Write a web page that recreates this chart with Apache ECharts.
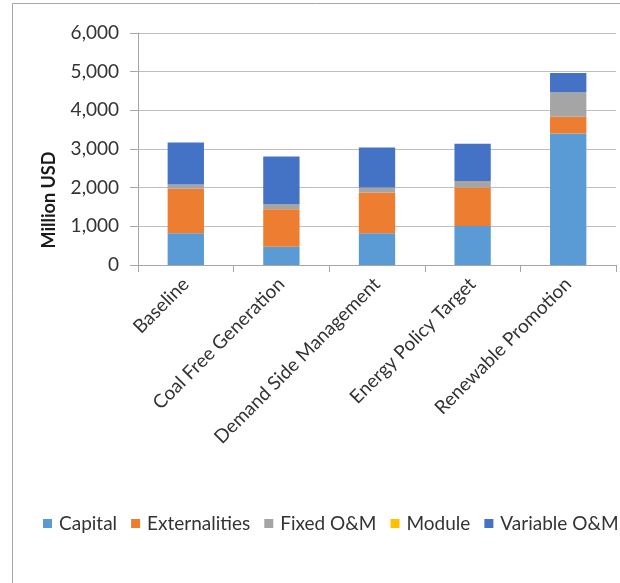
<!DOCTYPE html>
<html>
<head>
<meta charset="utf-8">
<script src="https://cdn.jsdelivr.net/npm/echarts@6/dist/echarts.min.js"></script>
<style>
  html, body { margin: 0; padding: 0; background: #ffffff; }
  #chart { width: 620px; height: 583px; }
</style>
</head>
<body>
<div id="chart"></div>
<script>
// Cost components per scenario, million USD
const scenarios = ['Baseline', 'Coal Free Generation', 'Demand Side Management', 'Energy Policy Target', 'Renewable Promotion'];
const capital = [820, 475, 820, 1010, 3400];
const externalities = [1150, 970, 1055, 995, 435];
const fixedOM = [110, 135, 130, 165, 630];
const moduleCost = [0, 0, 0, 0, 0];
const variableOM = [1090, 1225, 1035, 965, 500];
const yTickValues = [0, 1000, 2000, 3000, 4000, 5000, 6000];

const FONT = 'Lato, "DejaVu Sans", sans-serif';
const TEXT = '#333333';
const SIZE = 19;

const chart = echarts.init(document.getElementById('chart'), null, { renderer: 'canvas' });

function stackSeries(name, values, color) {
  return {
    name: name,
    type: 'bar',
    stack: 'cost',
    data: values,
    barWidth: '38%',
    itemStyle: { color: color },
    emphasis: { disabled: true }
  };
}

chart.setOption({
  animation: false,
  textStyle: { fontFamily: FONT },
  grid: { left: 138, right: 4, top: 33, bottom: 318, containLabel: false },
  graphic: [
    {
      type: 'rect',
      shape: { x: 12.5, y: 3.5, width: 700, height: 700 },
      style: { fill: null, stroke: '#a6a6a6', lineWidth: 1 },
      silent: true
    },
    {
      type: 'text',
      x: 49,
      y: 200,
      rotation: Math.PI / 2,
      style: {
        text: 'Million USD',
        font: 'bold 18px ' + FONT,
        fill: '#1a1a1a',
        align: 'center',
        verticalAlign: 'middle'
      },
      silent: true
    }
  ],
  legend: {
    left: 38,
    top: 509,
    width: 900,
    itemWidth: 9,
    itemHeight: 9,
    itemGap: 14,
    icon: 'rect',
    selectedMode: false,
    textStyle: { fontFamily: FONT, fontSize: SIZE, color: TEXT, padding: [0, 0, 0, 2] },
    data: ['Capital', 'Externalities', 'Fixed O&M', 'Module', 'Variable O&M']
  },
  xAxis: {
    type: 'category',
    data: scenarios,
    axisLine: { lineStyle: { color: '#a6a6a6', width: 1 } },
    axisTick: { show: true, length: 7, lineStyle: { color: '#a6a6a6' } },
    axisLabel: {
      interval: 0,
      rotate: 45,
      margin: 16,
      fontFamily: FONT,
      fontSize: SIZE,
      color: TEXT
    }
  },
  yAxis: {
    type: 'value',
    min: yTickValues[0],
    max: yTickValues[yTickValues.length - 1],
    interval: yTickValues[1] - yTickValues[0],
    axisLine: { show: true, lineStyle: { color: '#a6a6a6', width: 1 } },
    axisTick: { show: true, length: 8, lineStyle: { color: '#a6a6a6' } },
    splitLine: { show: true, lineStyle: { color: '#bfbfbf', width: 1 } },
    axisLabel: {
      margin: 19,
      fontFamily: FONT,
      fontSize: SIZE,
      color: TEXT,
      formatter: v => v.toLocaleString('en-US')
    }
  },
  series: [
    stackSeries('Capital', capital, '#5B9BD5'),
    stackSeries('Externalities', externalities, '#ED7D31'),
    stackSeries('Fixed O&M', fixedOM, '#A5A5A5'),
    stackSeries('Module', moduleCost, '#FFC000'),
    stackSeries('Variable O&M', variableOM, '#4472C4')
  ]
});
</script>
</body>
</html>
